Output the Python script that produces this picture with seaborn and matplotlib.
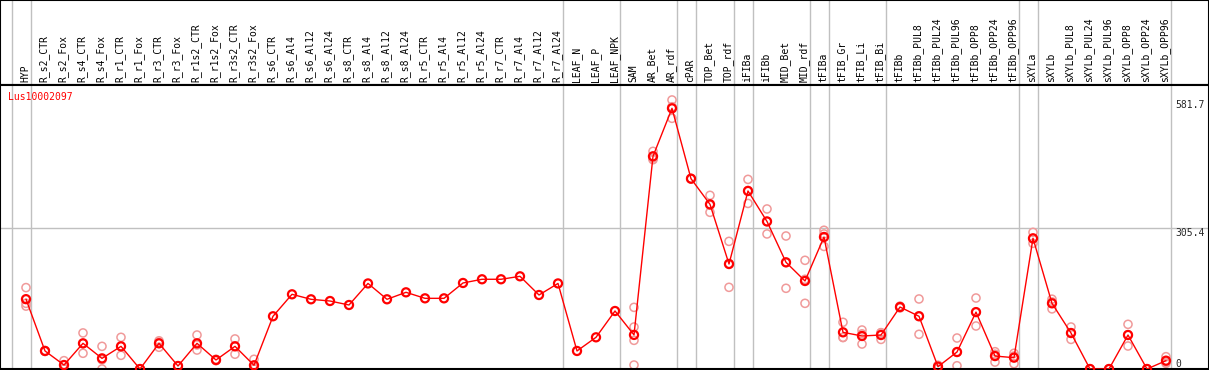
import numpy as np
import pandas as pd
import seaborn as sns
import matplotlib.pyplot as plt

# sample names, in plot order
samples = ['HYP',
           'R_s2_CTR', 'R_s2_Fox', 'R_s4_CTR', 'R_s4_Fox', 'R_r1_CTR', 'R_r1_Fox',
           'R_r3_CTR', 'R_r3_Fox', 'R_r1s2_CTR', 'R_r1s2_Fox', 'R_r3s2_CTR', 'R_r3s2_Fox',
           'R_s6_CTR', 'R_s6_Al4', 'R_s6_Al12', 'R_s6_Al24', 'R_s8_CTR', 'R_s8_Al4',
           'R_s8_Al12', 'R_s8_Al24', 'R_r5_CTR', 'R_r5_Al4', 'R_r5_Al12', 'R_r5_Al24',
           'R_r7_CTR', 'R_r7_Al4', 'R_r7_Al12', 'R_r7_Al24',
           'LEAF_N', 'LEAF_P', 'LEAF_NPK',
           'SAM', 'AR_Bet', 'AR_rdf',
           'cPAR',
           'TOP_Bet', 'TOP_rdf',
           'iFIBa',
           'iFIBb', 'MID_Bet', 'MID_rdf',
           'tFIBa',
           'tFIB_Gr', 'tFIB_Li', 'tFIB_Bi',
           'tFIBb', 'tFIBb_PUL8', 'tFIBb_PUL24', 'tFIBb_PUL96', 'tFIBb_OPP8',
           'tFIBb_OPP24', 'tFIBb_OPP96',
           'sXYLa',
           'sXYLb', 'sXYLb_PUL8', 'sXYLb_PUL24', 'sXYLb_PUL96', 'sXYLb_OPP8',
           'sXYLb_OPP24', 'sXYLb_OPP96']

# number of samples in each tissue group (separated by grey lines)
group_sizes = [1, 28, 3, 3, 1, 2, 1, 3, 1, 3, 7, 1, 7]

# mean expression per sample
means = [151,
         39, 8.6, 55.5, 23, 49, 0, 55.5, 6.5, 55.5, 19.5, 49, 8,
         114, 161.5, 150.7, 147, 138.4, 185, 150.7, 165.8, 152.8, 152.8, 186, 194,
         194, 200.4, 160, 185,
         39, 68.5, 125.4,
         73.7, 459.9, 563.6,
         411.5,
         356, 227,
         384.9,
         319, 230.7, 190.3,
         285.4,
         79.3, 71.4, 73.5,
         134, 114, 5, 36.8, 123, 28, 24.5,
         282.6,
         142, 77.8, 0, 0, 73.5, 0, 18]

# individual replicates (empty where only the mean is shown)
replicates = [[176, 142, 136],
              [40, 38, 39], [18, 8, 0], [78, 34, 55], [49, 0, 20], [68.5, 29.6, 49], [0, 0, 0],
              [61, 47, 58], [6, 7, 6.5], [73.5, 41, 52], [18, 21, 19], [65, 32, 50], [21, 0, 3],
              [], [], [], [], [], [], [], [], [], [], [], [],
              [], [], [], [],
              [], [], [],
              [133.3, 90.8, 62, 8.6], [470.6, 452.6, 456], [581.7, 542, 567],
              [412, 411, 411.5],
              [375.5, 338.8, 354], [276, 176.6, 228],
              [410, 358, 386],
              [346, 292, 319], [287.6, 174.5, 230], [235, 142, 194],
              [300, 292, 265],
              [101, 68.5, 68], [84.3, 54, 76], [78.6, 64, 78],
              [136, 132, 134], [151.4, 75, 115], [0, 8, 7], [67, 7, 36], [153.5, 93, 123],
              [37.4, 15, 32], [34, 11.5, 28],
              [295.5, 271.7, 281],
              [151, 130, 145], [90.8, 64, 78], [0, 0, 0], [0, 0, 0], [96.6, 49.7, 74],
              [0, 0, 0], [26.6, 12.3, 15]]

gene = 'Lus10002097'
y_marks = [581.7, 305.4, 0]

pos = np.arange(len(samples))
df_mean = pd.DataFrame({'pos': pos, 'value': means})
df_rep = pd.DataFrame([(i, v) for i, reps in enumerate(replicates) for v in reps],
                      columns=['pos', 'value'])

sns.set_style('white')
plt.rcParams['font.family'] = ['DejaVu Sans Mono']

W, H = 1209, 370
fig = plt.figure(figsize=(W / 100, H / 100), dpi=100)
head_h = 85
ax_head = fig.add_axes([0, (H - head_h) / H, 1, head_h / H])
ax = fig.add_axes([0, 1 / H, 1, (H - head_h - 1) / H])

xmin, xmax = -26 / 19, (W - 26) / 19
for a in (ax_head, ax):
    a.set_xlim(xmin, xmax)
    a.set_xticks([])
    a.set_yticks([])
    for s in a.spines.values():
        s.set_color('black')
        s.set_linewidth(1.5)

# group separators
bounds = np.concatenate([[0], np.cumsum(group_sizes)]) - 1 + 0.24
for b in bounds:
    for a in (ax_head, ax):
        a.axvline(b, color='#c0c0c0', lw=1, zorder=0)

# header labels
ax_head.set_ylim(0, 1)
for i, name in enumerate(samples):
    ax_head.text(i - 0.05, 0.03, name, rotation=90, ha='center', va='bottom',
                 fontsize=7, color='black')

# plot area
ax.set_ylim(0, (H - head_h - 1) / 0.4625)
ax.axhline(305.4, color='#c0c0c0', lw=1, zorder=0)

sns.scatterplot(data=df_rep, x='pos', y='value', ax=ax, marker='o', s=34,
                facecolor='none', edgecolor='#f09a9a', linewidth=1.1, clip_on=False,
                zorder=2, legend=False)
sns.lineplot(data=df_mean, x='pos', y='value', ax=ax, color='red', lw=1, zorder=3)
sns.scatterplot(data=df_mean, x='pos', y='value', ax=ax, marker='o', s=34,
                facecolor='none', edgecolor='red', linewidth=1.6, clip_on=False,
                zorder=4, legend=False)
ax.set_xlabel('')
ax.set_ylabel('')
ax.set_xlim(xmin, xmax)

ax.text(0.007, 0.958, gene, transform=ax.transAxes, color='red', fontsize=7,
        ha='left', va='center')
trans = ax.get_yaxis_transform()
for v in y_marks:
    if v == 0:
        ax.text(0.9725, v, '0', transform=trans, fontsize=7, ha='left', va='bottom')
    else:
        ax.text(0.9725, v, f'{v}', transform=trans, fontsize=7, ha='left', va='top')

fig.savefig('out.png', dpi=100)
